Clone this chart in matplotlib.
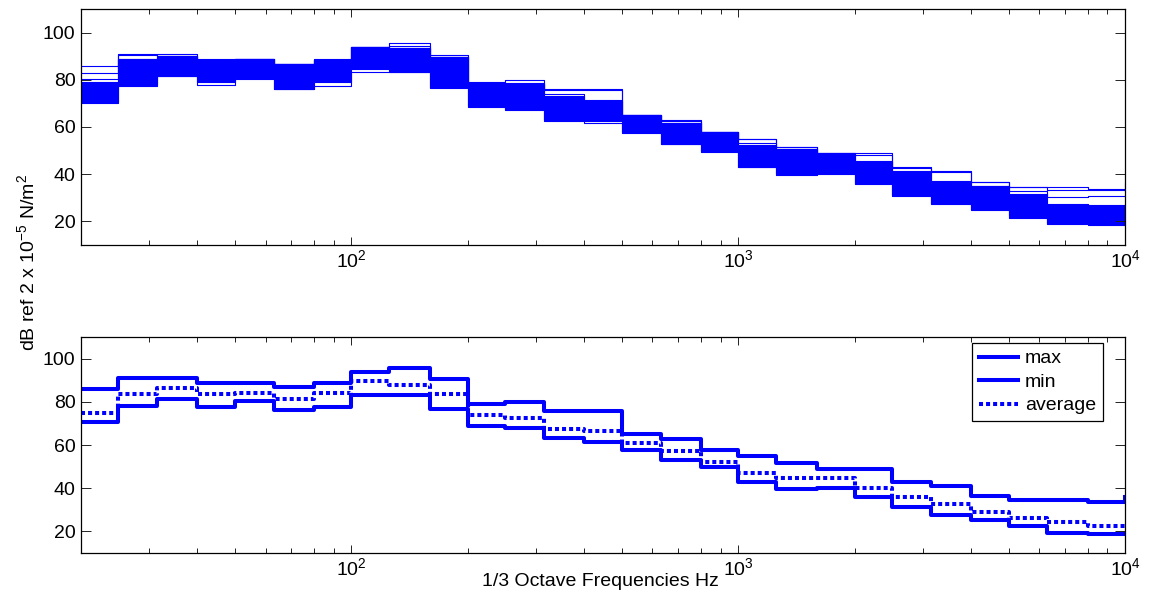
import numpy as np
import matplotlib
matplotlib.use('Agg')
import matplotlib.pyplot as plt
from matplotlib.ticker import LogLocator, NullFormatter

plt.rcParams['font.family'] = ['Liberation Sans', 'DejaVu Sans']
plt.rcParams['mathtext.fontset'] = 'custom'
plt.rcParams['mathtext.rm'] = 'Liberation Sans'

# 1/3 octave band frequencies (Hz)
freqs = [20, 25, 31.5, 40, 50, 63, 80, 100, 125, 160, 200, 250, 315, 400, 500,
         630, 800, 1000, 1250, 1600, 2000, 2500, 3150, 4000, 5000, 6300, 8000, 10000]

# levels in dB
max_db = [85.8, 91.1, 91.1, 88.8, 88.8, 86.8, 88.8, 93.8, 95.5, 90.5, 79.2, 79.8, 75.8, 75.8,
          65.2, 62.9, 57.8, 54.9, 51.5, 48.8, 48.8, 42.9, 41.2, 36.6, 34.5, 34.5, 33.8, 36.1]
min_db = [70.8, 78.1, 81.5, 77.7, 80.3, 76.1, 77.4, 83.1, 83.1, 76.6, 68.9, 67.7, 63.1, 61.5,
          57.7, 52.9, 49.8, 43.1, 39.7, 40.3, 36.1, 31.2, 27.7, 25.4, 22.3, 19.2, 19.0, 18.6]
avg_db = [74.6, 83.5, 86.2, 83.4, 84.3, 81.1, 84.1, 89.7, 87.7, 83.5, 73.8, 72.7, 67.4, 66.5,
          61.1, 57.2, 52.3, 46.9, 44.9, 44.5, 40.3, 36.1, 32.9, 29.1, 26.4, 24.5, 22.3, 22.3]

# dense band of the individual measurements (top panel)
core_hi = [78.9, 88.8, 90.2, 88.5, 88.7, 86.7, 88.5, 93.8, 93.5, 89.5, 78.5, 78.2, 73.3, 71.2,
           65.1, 61.5, 57.7, 52.5, 50.7, 48.8, 45.0, 40.8, 36.5, 35.1, 31.6, 27.4, 27.1, 27.1]
core_lo = [70.0, 77.5, 81.8, 78.9, 80.7, 76.1, 78.9, 84.6, 83.2, 76.8, 68.6, 67.2, 62.7, 62.7,
           57.5, 52.8, 49.2, 42.9, 40.1, 40.1, 35.8, 30.9, 27.4, 24.9, 21.4, 19.1, 18.5, 18.5]
# single traces standing out of the band
upper2 = [82.7, 90.4, 90.2, 88.5, 88.7, 86.7, 88.5, 93.8, 94.5, 89.5, 78.5, 78.5, 74.0, 71.5,
          65.1, 62.7, 57.7, 53.1, 50.7, 48.8, 45.7, 41.5, 37.2, 35.1, 33.0, 30.2, 30.9, 30.9]
mid_hi = [80.2, 88.8, 90.2, 88.5, 88.7, 86.7, 88.5, 93.8, 93.5, 89.5, 78.5, 78.2, 76.0, 76.0,
          65.1, 61.5, 57.7, 54.9, 51.7, 48.3, 48.3, 42.5, 40.8, 36.5, 34.4, 33.3, 33.5, 33.5]

blue = '#0000ff'
fs = 14

fig = plt.figure(figsize=(11.52, 6.03), dpi=100)
ax1 = fig.add_axes([0.0703, 0.5937, 0.9063, 0.3914])
ax2 = fig.add_axes([0.0703, 0.0829, 0.9063, 0.3582])

# top: all measurements
ax1.fill_between(freqs, core_lo, core_hi, step='post', color=blue, lw=0)
for trace in [max_db, upper2, mid_hi, min_db, core_hi, core_lo]:
    ax1.step(freqs, trace, where='post', color=blue, lw=0.8)

# bottom: max / min / average
ax2.step(freqs, max_db, where='post', color=blue, lw=2.9, label='max')
ax2.step(freqs, min_db, where='post', color=blue, lw=2.9, label='min')
ax2.step(freqs, avg_db, where='post', color=blue, lw=2.9, dashes=(1, 0.75),
         dash_capstyle='butt', label='average')

for ax in (ax1, ax2):
    ax.set_xscale('log')
    ax.set_xlim(20, 10000)
    ax.set_ylim(10, 110)
    ax.set_yticks([20, 40, 60, 80, 100])
    ax.xaxis.set_major_locator(LogLocator(base=10))
    ax.xaxis.set_minor_locator(LogLocator(base=10, subs=np.arange(2, 10)))
    ax.xaxis.set_minor_formatter(NullFormatter())
    ax.tick_params(which='both', direction='in', top=True, right=True,
                   labelsize=fs, width=0.7, color='#222222')
    ax.tick_params(axis='y', which='major', length=7, pad=4)
    ax.tick_params(axis='x', which='major', length=6, pad=3)
    ax.tick_params(axis='x', which='minor', length=3.5)
    for s in ax.spines.values():
        s.set_linewidth(0.9)

leg = ax2.legend(loc='upper right', bbox_to_anchor=(0.979, 0.972), borderaxespad=0,
                 fontsize=fs, handlelength=2.05, handletextpad=0.35, labelspacing=0.3,
                 borderpad=0.35, fancybox=False, framealpha=1, edgecolor='black')
leg.get_frame().set_linewidth(0.9)

fig.text(0.024, 0.564, r'dB ref 2 x 10$^{\mathdefault{-5}}$ N/m$^{\mathdefault{2}}$',
         rotation=90, ha='center', va='center', fontsize=fs)
fig.text(0.521, 0.036, '1/3 Octave Frequencies Hz', ha='center', va='center', fontsize=fs)

fig.savefig('out.png', dpi=100)
